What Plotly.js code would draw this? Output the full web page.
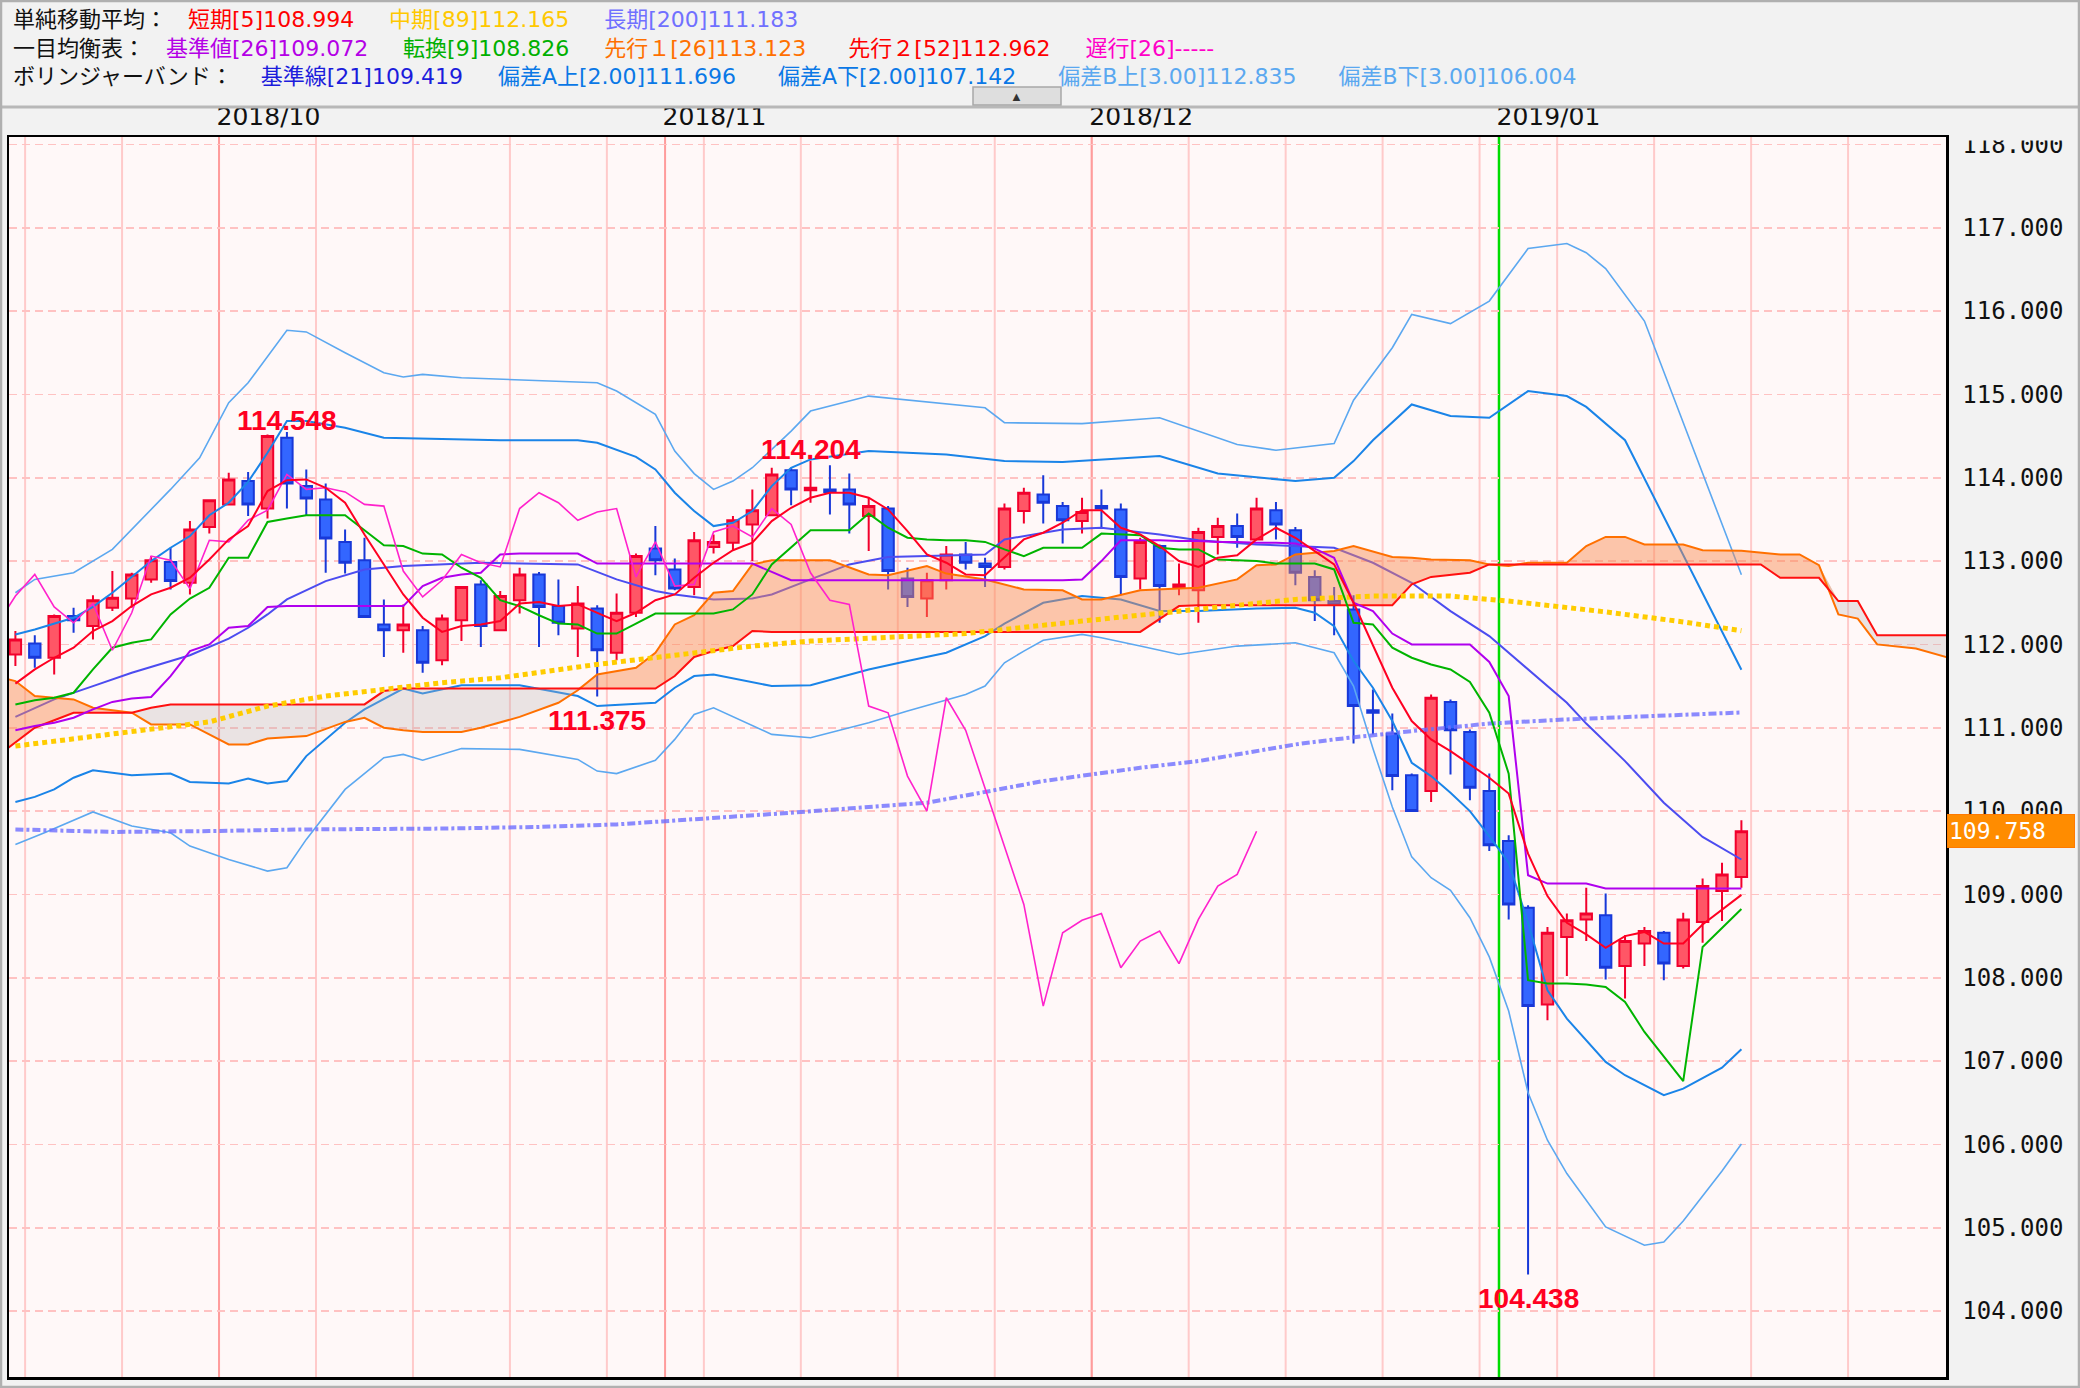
<!DOCTYPE html>
<html><head><meta charset="utf-8">
<script src="https://cdn.plot.ly/plotly-3.0.1.min.js"></script>
<style>html,body{margin:0;padding:0;background:#f2f2f2;}#chart{width:2080px;height:1388px;}</style>
</head><body><div id="chart"></div>
<script>
// ---------- data ----------
const dates = ["2018-09-14",
"2018-09-17","2018-09-18","2018-09-19","2018-09-20","2018-09-21",
"2018-09-24","2018-09-25","2018-09-26","2018-09-27","2018-09-28",
"2018-10-01","2018-10-02","2018-10-03","2018-10-04","2018-10-05",
"2018-10-08","2018-10-09","2018-10-10","2018-10-11","2018-10-12",
"2018-10-15","2018-10-16","2018-10-17","2018-10-18","2018-10-19",
"2018-10-22","2018-10-23","2018-10-24","2018-10-25","2018-10-26",
"2018-10-29","2018-10-30","2018-10-31","2018-11-01","2018-11-02",
"2018-11-05","2018-11-06","2018-11-07","2018-11-08","2018-11-09",
"2018-11-12","2018-11-13","2018-11-14","2018-11-15","2018-11-16",
"2018-11-19","2018-11-20","2018-11-21","2018-11-22","2018-11-23",
"2018-11-26","2018-11-27","2018-11-28","2018-11-29","2018-11-30",
"2018-12-03","2018-12-04","2018-12-05","2018-12-06","2018-12-07",
"2018-12-10","2018-12-11","2018-12-12","2018-12-13","2018-12-14",
"2018-12-17","2018-12-18","2018-12-19","2018-12-20","2018-12-21",
"2018-12-24","2018-12-25","2018-12-26","2018-12-27","2018-12-28",
"2018-12-31","2019-01-02","2019-01-03","2019-01-04",
"2019-01-07","2019-01-08","2019-01-09","2019-01-10","2019-01-11",
"2019-01-14","2019-01-15","2019-01-16","2019-01-17","2019-01-18"];

const open = [111.88,112.01,111.84,112.34,112.22,112.44,112.55,112.78,112.99,112.74,
113.41,113.68,113.96,113.63,114.48,113.90,113.74,113.23,113.01,112.24,
112.17,112.17,111.81,112.29,112.72,112.17,112.53,112.84,112.46,112.19,
112.43,111.90,112.38,113.15,112.90,112.69,113.17,113.22,113.44,113.55,
114.09,113.85,113.86,113.86,113.54,113.63,112.79,112.55,112.77,113.08,
112.97,112.93,113.60,113.80,113.66,113.48,113.66,113.62,112.79,113.18,
112.69,112.65,113.29,113.42,113.26,113.61,113.37,112.81,112.52,112.42,
111.21,110.93,110.43,110.24,111.31,110.95,110.24,109.64,108.84,107.68,
108.49,108.70,108.75,108.14,108.41,108.54,108.14,108.67,109.04,109.21];
const high = [112.16,112.11,112.36,112.44,112.59,112.88,112.86,113.06,113.16,113.48,
113.74,114.06,114.07,114.52,114.548,114.10,113.93,113.38,113.28,112.54,
112.48,112.22,112.36,112.70,112.77,112.64,112.92,112.87,112.78,112.70,
112.47,112.61,113.09,113.42,113.03,113.35,113.32,113.54,113.86,114.12,
114.12,114.204,114.15,114.05,113.76,113.66,112.92,112.86,113.18,113.23,
113.04,113.69,113.88,114.03,113.71,113.76,113.86,113.69,113.28,113.20,
112.97,113.40,113.52,113.57,113.76,113.71,113.41,112.89,112.69,112.59,
111.46,111.17,110.45,111.40,111.34,110.98,110.45,109.71,108.87,108.61,
108.77,109.08,109.01,108.51,108.61,108.56,108.78,109.19,109.38,109.89];
const low = [111.74,111.72,111.64,112.14,112.06,112.40,112.44,112.74,112.66,112.60,
113.33,113.67,113.54,113.51,113.63,113.55,112.86,112.85,112.32,111.85,
111.90,111.66,111.75,112.04,111.97,112.16,112.37,111.97,112.11,111.85,
111.375,111.81,112.33,112.83,112.65,112.59,113.09,113.12,113.00,113.54,
113.67,113.70,113.56,113.33,113.12,112.66,112.45,112.33,112.66,112.90,
112.69,112.90,113.45,113.45,113.21,113.33,113.40,112.59,112.66,112.26,
112.59,112.26,113.08,113.16,113.25,113.26,112.71,112.28,112.11,110.81,
110.92,110.25,109.99,110.11,110.44,110.13,109.52,108.70,104.438,107.49,
108.02,108.44,107.98,107.75,108.14,107.97,108.11,108.42,108.68,109.08];
const close = [112.06,111.84,112.34,112.29,112.53,112.56,112.84,113.01,112.76,113.38,
113.73,113.98,113.68,114.50,113.93,113.75,113.27,112.98,112.33,112.17,
112.24,111.78,112.31,112.69,112.22,112.58,112.84,112.45,112.26,112.49,
111.93,112.38,113.06,113.01,112.67,113.25,113.23,113.49,113.61,114.04,
113.86,113.88,113.83,113.68,113.66,112.88,112.57,112.77,113.08,112.98,
112.93,113.63,113.82,113.70,113.49,113.59,113.63,112.81,113.23,112.70,
112.72,113.35,113.42,113.29,113.63,113.44,112.86,112.53,112.48,111.26,
111.18,110.42,110.00,111.36,110.97,110.28,109.59,108.88,107.66,108.54,
108.69,108.77,108.12,108.44,108.56,108.17,108.70,109.10,109.24,109.758];

// 単純移動平均 短期[5]
const sma5 = [111.53,111.70,111.84,111.96,112.16,112.28,112.46,112.60,112.68,112.80,
113.02,113.26,113.42,113.84,113.97,113.98,113.88,113.70,113.32,112.96,
112.60,112.32,112.15,112.22,112.24,112.28,112.49,112.51,112.46,112.48,
112.38,112.28,112.38,112.53,112.60,112.80,112.98,113.13,113.22,113.48,
113.64,113.76,113.82,113.82,113.76,113.62,113.36,113.08,112.98,112.84,
112.83,113.04,113.26,113.34,113.46,113.61,113.61,113.40,113.32,113.18,
113.00,112.93,113.04,113.07,113.26,113.40,113.28,113.12,112.96,112.50,
111.98,111.48,111.08,110.86,110.72,110.56,110.40,110.21,109.49,108.98,
108.66,108.52,108.36,108.50,108.55,108.41,108.41,108.64,108.82,108.994];
// 中期[89]
const sma89X = [0,4,10,13,16,22,25,30,33,38,41,45,49,55,59,63,66,70,74,77,80,82,86,89];
const sma89Y = [110.78,110.90,111.07,111.26,111.38,111.54,111.60,111.76,111.84,111.98,112.04,112.08,112.13,112.28,112.38,112.48,112.54,112.58,112.58,112.52,112.45,112.39,112.27,112.165];
// 長期[200]
const sma200X = [0,5,10,15,22,27,31,35,40,47,53,58,61,66,68,72,76,80,85,89];
const sma200Y = [109.78,109.75,109.76,109.78,109.79,109.81,109.84,109.90,109.98,110.10,110.36,110.52,110.60,110.80,110.86,110.96,111.05,111.10,111.15,111.183];

// 一目均衡表
const tenkan = [111.28,111.33,111.36,111.42,111.70,111.96,112.02,112.06,112.36,112.55,
112.68,113.04,113.04,113.47,113.51,113.55,113.55,113.55,113.37,113.19,
113.18,113.09,113.08,112.92,112.80,112.53,112.46,112.35,112.25,112.24,
112.13,112.13,112.25,112.37,112.37,112.37,112.37,112.42,112.60,112.96,
113.16,113.37,113.37,113.37,113.57,113.40,113.28,113.26,113.25,113.25,
113.23,113.14,113.06,113.16,113.16,113.16,113.33,113.32,113.31,113.16,
113.14,113.14,113.02,113.01,113.00,112.97,112.97,112.97,112.90,112.26,
112.24,111.96,111.84,111.76,111.70,111.55,111.18,110.45,107.97,107.93,
107.93,107.92,107.89,107.71,107.35,107.05,106.76,108.37,108.60,108.826];
const kijun = [110.97,111.02,111.06,111.12,111.22,111.31,111.35,111.37,111.62,111.92,
112.00,112.20,112.22,112.45,112.46,112.46,112.46,112.46,112.46,112.46,
112.46,112.70,112.80,112.84,112.86,113.08,113.09,113.09,113.09,113.09,
112.97,112.97,112.97,112.97,112.97,112.97,112.97,112.97,112.97,112.87,
112.77,112.77,112.77,112.77,112.77,112.77,112.77,112.77,112.77,112.77,
112.77,112.77,112.77,112.77,112.77,112.78,113.00,113.25,113.25,113.25,
113.24,113.24,113.23,113.23,113.22,113.22,113.21,113.15,113.04,112.50,
112.40,112.13,112.00,112.00,112.00,112.00,111.79,111.38,109.23,109.13,
109.13,109.13,109.072,109.072,109.072,109.072,109.072,109.072,109.072,109.072];
const senX = [-1,0,1,3,4,6,7,8,9,11,12,13,15,17,18,19,20,21,23,24,26,28,29,30,32,33,34,35,36,37,
38,39,42,44,45,47,48,50,52,54,55,56,58,60,61,63,64,65,66,68,69,71,72,73,75,76,77,78,80,81,
82,83,84,86,87,89,90,91,92,93,94,95,96,98,100];
const senkouA = [111.62,111.56,111.38,111.34,111.24,111.18,111.04,111.04,111.04,110.80,
110.80,110.87,110.90,111.07,111.12,111.00,110.97,110.95,110.95,111.00,
111.13,111.30,111.45,111.64,111.72,111.90,112.24,112.35,112.62,112.64,
112.96,113.01,113.01,112.84,112.83,112.94,112.85,112.78,112.66,112.65,
112.54,112.54,112.65,112.67,112.68,112.78,112.95,112.96,113.08,113.12,
113.18,113.05,113.04,113.02,113.01,112.96,112.94,112.98,112.98,113.18,
113.29,113.29,113.20,113.20,113.13,113.123,113.10,113.08,113.08,112.95,
112.36,112.31,112.00,111.95,111.82];
const senkouB = [110.65,110.82,111.00,111.18,111.18,111.18,111.24,111.28,111.28,111.28,
111.28,111.28,111.28,111.28,111.28,111.44,111.47,111.47,111.47,111.47,
111.47,111.47,111.47,111.47,111.47,111.47,111.62,111.85,111.92,111.98,
112.16,112.15,112.15,112.15,112.15,112.15,112.15,112.15,112.15,112.15,
112.15,112.15,112.15,112.46,112.47,112.47,112.47,112.47,112.47,112.47,
112.47,112.47,112.72,112.81,112.86,112.96,112.96,112.96,112.96,112.96,
112.96,112.96,112.96,112.96,112.96,112.962,112.96,112.80,112.80,112.80,
112.52,112.52,112.11,112.11,112.11];
const chikouShift = 25;

// ボリンジャーバンド
const bbMidX = [0,2,4,6,9,11,12,13,14,16,18,20,24,29,31,33,34,36,38,39,41,43,45,50,51,54,56,59,61,64,68,70,72,74,76,78,80,81,83,85,87,89];
const bbMidY = [111.13,111.34,111.50,111.66,111.87,112.07,112.20,112.36,112.54,112.76,112.90,112.94,112.98,112.96,112.78,112.64,112.60,112.54,112.55,112.60,112.78,112.96,113.05,113.08,113.26,113.38,113.40,113.32,113.25,113.20,113.16,112.98,112.74,112.40,112.10,111.70,111.30,111.05,110.60,110.10,109.69,109.419];
const bbUp2X = [0,1,3,4,5,7,8,9,10,11,12,13,14,15,17,19,25,29,30,32,33,34,35,36,37,38,39,40,41,44,48,51,54,59,62,66,68,69,70,72,74,76,78,80,81,83,89];
const bbUp2Y = [112.12,112.18,112.32,112.45,112.62,113.00,113.16,113.30,113.55,113.70,113.95,114.30,114.68,114.68,114.60,114.48,114.45,114.45,114.42,114.25,114.10,113.82,113.60,113.42,113.46,113.60,113.90,114.12,114.22,114.32,114.28,114.20,114.19,114.26,114.05,113.96,114.00,114.20,114.45,114.88,114.74,114.72,115.04,114.98,114.85,114.45,111.696];
const bbLo2X = [0,1,2,3,4,6,8,9,11,12,13,14,15,17,18,20,21,23,26,29,30,33,34,35,36,39,41,44,46,48,50,51,53,55,57,59,61,64,66,67,68,69,70,71,72,73,74,75,76,77,78,79,80,82,83,85,86,88,89];
const bbLo2Y = [110.11,110.17,110.26,110.40,110.49,110.43,110.45,110.35,110.33,110.39,110.33,110.36,110.66,111.06,111.22,111.47,111.41,111.51,111.51,111.38,111.26,111.30,111.48,111.62,111.64,111.50,111.51,111.70,111.80,111.90,112.10,112.25,112.50,112.58,112.54,112.40,112.40,112.43,112.44,112.38,112.22,111.80,111.48,111.08,110.58,110.42,110.22,110.00,109.70,109.38,108.66,107.85,107.51,106.99,106.83,106.59,106.67,106.92,107.142];
const bbUp3X = [0,1,3,5,8,9.5,11,12,14,15,17,19,20,21,23,30,31,33,34,35,36,37,38,40,41,44,50,51,55,59,63,65,68,69,71,72,74,76,78,80,81,82,84,89];
const bbUp3Y = [112.62,112.78,112.86,113.14,113.86,114.24,114.90,115.14,115.77,115.75,115.50,115.26,115.21,115.24,115.20,115.14,115.04,114.76,114.32,114.05,113.86,113.96,114.12,114.56,114.80,114.98,114.84,114.66,114.65,114.72,114.40,114.33,114.41,114.93,115.56,115.96,115.85,116.12,116.75,116.81,116.70,116.51,115.88,112.835];
const bbLo3X = [0,1.5,4,6,8,9,11,13,14,15,17,19,20,21,23,26,29,30,31,33,34,35,36,39,41,44,46,49,50,51,52,53,55,56,58,60,63,66,68,69,70,71,72,73,74,75,76,77,78,79,80,82,84,85,86,88,89];
const bbLo3Y = [109.60,109.74,109.99,109.82,109.74,109.58,109.42,109.28,109.32,109.66,110.26,110.64,110.68,110.61,110.75,110.74,110.62,110.48,110.45,110.61,110.86,111.16,111.24,110.92,110.88,111.06,111.20,111.40,111.50,111.78,111.92,112.05,112.12,112.08,111.98,111.88,111.98,112.02,111.90,111.50,110.75,110.05,109.45,109.20,109.05,108.72,108.25,107.60,106.62,106.05,105.65,105.01,104.79,104.83,105.08,105.68,106.004];

const peakIdx = [14, 41];
const troughIdx = [30, 78];
const futureWeekStarts = [89.5, 94.5];

// ---------- layout helpers ----------
const W = 2080, H = 1388, ML = 9, MR = 134, MT = 137, MB = 11;
const PW = W - ML - MR, PH = H - MT - MB;
const px2x = px => (px - ML) / PW;
const py2y = py => (H - MB - py) / PH;
const idx = dates.map((_, i) => i);
const last = a => a[a.length - 1];
const f3 = v => v.toFixed(3);

// boundaries from dates
const weekB = [], monthB = [], yearB = [], monthLbl = [];
for (let k = 1; k < dates.length; k++) {
  const a = new Date(dates[k-1] + 'T00:00:00Z'), b = new Date(dates[k] + 'T00:00:00Z');
  if (b.getUTCDay() < a.getUTCDay() || (b - a) > 6 * 864e5) weekB.push(k - 0.5);
  if (b.getUTCMonth() !== a.getUTCMonth()) {
    if (b.getUTCFullYear() !== a.getUTCFullYear()) yearB.push(k - 0.5); else monthB.push(k - 0.5);
    monthLbl.push({pos: k - 0.5, text: dates[k].slice(0, 7).replace('-', '/')});
  }
}

const vline = (x, color, width) => ({type:'line', xref:'x', yref:'paper', x0:x, x1:x, y0:0, y1:1, line:{color, width}, layer:'below'});
const shapes = [];
weekB.concat(futureWeekStarts).forEach(x => shapes.push(vline(x, '#ffcaca', 2)));
monthB.forEach(x => shapes.push(vline(x, '#ff9c9c', 2)));
yearB.forEach(x => shapes.push(vline(x, '#00dd00', 2.5)));
shapes.push({type:'rect', xref:'paper', yref:'paper', x0:px2x(1949), x1:px2x(2076), y0:py2y(108), y1:py2y(140.5), fillcolor:'#f2f2f2', line:{width:0}, layer:'above'});
shapes.push({type:'line', xref:'paper', yref:'paper', x0:px2x(0), x1:px2x(W), y0:py2y(107), y1:py2y(107), line:{color:'#b8b8b8', width:3}, layer:'above'});
shapes.push({type:'rect', xref:'paper', yref:'paper', x0:px2x(973), x1:px2x(1061), y0:py2y(105), y1:py2y(87), fillcolor:'#dedede', line:{color:'#a8a8a8', width:1.5}, layer:'above'});
shapes.push({type:'rect', xref:'paper', yref:'paper', x0:px2x(1), x1:px2x(W-1), y0:py2y(H-1), y1:py2y(1), line:{color:'#b0b0b0', width:2.5}, layer:'above'});

// ---------- traces ----------
const line = (x, y, color, width, dash) => ({type:'scatter', mode:'lines', x, y, line:{color, width, dash: dash || 'solid'}, hoverinfo:'skip'});
const senMax = senkouA.map((a, k) => Math.max(a, senkouB[k]));

const traces = [
  {type:'candlestick', x: idx, open, high, low, close, whiskerwidth: 0, hoverinfo:'skip',
   increasing:{line:{color:'#f2002c', width:2}, fillcolor:'#ff5666'},
   decreasing:{line:{color:'#1838d8', width:2}, fillcolor:'#3366ff'}},
  line(bbUp3X, bbUp3Y, '#5ca8f0', 1.6),
  line(bbLo3X, bbLo3Y, '#5ca8f0', 1.6),
  line(bbUp2X, bbUp2Y, '#1a84e8', 2),
  line(bbLo2X, bbLo2Y, '#1a84e8', 2),
  line(bbMidX, bbMidY, '#4c4cf0', 2),
  {type:'scatter', mode:'lines', x: senX, y: senkouB, line:{width:0}, hoverinfo:'skip'},
  {type:'scatter', mode:'lines', x: senX, y: senMax, line:{width:0}, fill:'tonexty', fillcolor:'rgba(248,138,78,0.46)', hoverinfo:'skip'},
  {type:'scatter', mode:'lines', x: senX, y: senkouA, line:{width:0}, hoverinfo:'skip'},
  {type:'scatter', mode:'lines', x: senX, y: senMax, line:{width:0}, fill:'tonexty', fillcolor:'rgba(185,180,180,0.30)', hoverinfo:'skip'},
  line(senX, senkouA, '#ff7000', 2),
  line(senX, senkouB, '#ff1010', 2),
  line(sma200X, sma200Y, 'rgba(110,110,255,0.8)', 4, '8px,3px,3px,3px'),
  line(sma89X, sma89Y, '#ffcc00', 5, '5px,4px'),
  line(idx, kijun, '#b000ee', 2),
  line(idx, tenkan, '#00b400', 2),
  line(idx.map(i => i - chikouShift), close, '#ff22cc', 1.6),
  line(idx, sma5, '#ff0022', 2)
];

// ---------- header (one multi-line text block) ----------
const sp = n => '\u00a0'.repeat(n);
const c = (color, t) => '<span style="color:' + color + '">' + t + '</span>';
const senAt = (arr, i) => arr[senX.indexOf(i)];
const hdrLines = [
  c('#111', '単純移動平均：') + sp(3) + c('#ff0000', '短期[5]' + f3(last(sma5))) + sp(5) +
    c('#ffc800', '中期[89]' + f3(last(sma89Y))) + sp(5) + c('#7070ff', '長期[200]' + f3(last(sma200Y))),
  c('#111', '一目均衡表：') + sp(3) + c('#b400e6', '基準値[26]' + f3(last(kijun))) + sp(5) +
    c('#00b000', '転換[9]' + f3(last(tenkan))) + sp(5) + c('#ff7000', '先行１[26]' + f3(senAt(senkouA, 89))) + sp(6) +
    c('#ff0000', '先行２[52]' + f3(senAt(senkouB, 89))) + sp(5) + c('#ff00c8', '遅行[26]-----'),
  c('#111', 'ボリンジャーバンド：') + sp(4) + c('#1c1cdc', '基準線[21]' + f3(last(bbMidY))) + sp(5) +
    c('#0a78e6', '偏差A上[2.00]' + f3(last(bbUp2Y))) + sp(6) + c('#0a78e6', '偏差A下[2.00]' + f3(last(bbLo2Y))) + sp(6) +
    c('#5aa8f0', '偏差B上[3.00]' + f3(last(bbUp3Y))) + sp(6) + c('#5aa8f0', '偏差B下[3.00]' + f3(last(bbLo3Y)))
];
const annotations = [
  {xref:'paper', yref:'paper', x:px2x(12), y:py2y(48), xanchor:'left', yanchor:'middle', align:'left',
   text: hdrLines.join('<br>'), showarrow:false, borderpad:0,
   font:{family:'DejaVu Sans, Noto Sans CJK JP, sans-serif', size:22, color:'#111'}},
  {xref:'paper', yref:'paper', x:px2x(1017), y:py2y(96), text:'▲', showarrow:false, font:{size:13, color:'#333'}, xanchor:'center', yanchor:'middle'},
  {xref:'paper', yref:'y', x:1, xshift:1, y:last(close), xanchor:'left', yanchor:'middle', text:f3(last(close)), showarrow:false,
   bgcolor:'#ff8c00', bordercolor:'#ff7a00', borderwidth:1, width:124, height:30, align:'left',
   font:{family:'DejaVu Sans Mono, monospace', size:23, color:'#ffffff'}}
];
const lblFont = {family:'Liberation Sans, Arial, sans-serif', size:28, color:'#ff0022', weight:'bold'};
peakIdx.forEach(i => annotations.push({x:i, y:high[i], xref:'x', yref:'y', text:'<b>' + f3(high[i]) + '</b>', showarrow:false, xanchor:'center', yanchor:'bottom', yshift:-6, font:lblFont}));
troughIdx.forEach(i => annotations.push({x:i, y:low[i], xref:'x', yref:'y', text:'<b>' + f3(low[i]) + '</b>', showarrow:false, xanchor:'center', yanchor:'top', yshift:-6, font:lblFont}));

const layout = {
  width: W, height: H,
  margin: {l: ML, r: MR, t: MT, b: MB, pad: 0},
  paper_bgcolor: '#f2f2f2', plot_bgcolor: '#fff8f8',
  showlegend: false, hovermode: false, boxgap: 0.16,
  xaxis: {range: [-0.33, 99.55], side: 'top', showgrid: false, zeroline: false,
    tickvals: monthLbl.map(m => m.pos + 2.55), ticktext: monthLbl.map(m => m.text),
    ticks: '', tickfont: {family: 'DejaVu Sans, sans-serif', size: 25, color: '#111'},
    showline: true, mirror: true, linecolor: '#000', linewidth: 2.5,
    rangeslider: {visible: false}, fixedrange: true},
  yaxis: {range: [103.209, 118.089], side: 'right', zeroline: false,
    tickvals: [104,105,106,107,108,109,110,111,112,113,114,115,116,117,118], tickformat: '.3f',
    ticks: 'outside', ticklen: 9, tickcolor: 'rgba(0,0,0,0)',
    tickfont: {family: 'DejaVu Sans Mono, monospace', size: 24, color: '#111'},
    showgrid: true, gridcolor: '#ffc2c2', gridwidth: 1.5, griddash: '8px,5px',
    showline: true, mirror: true, linecolor: '#000', linewidth: 2.5, fixedrange: true},
  shapes, annotations
};
Plotly.newPlot('chart', traces, layout, {staticPlot: true, displayModeBar: false});
</script></body></html>
